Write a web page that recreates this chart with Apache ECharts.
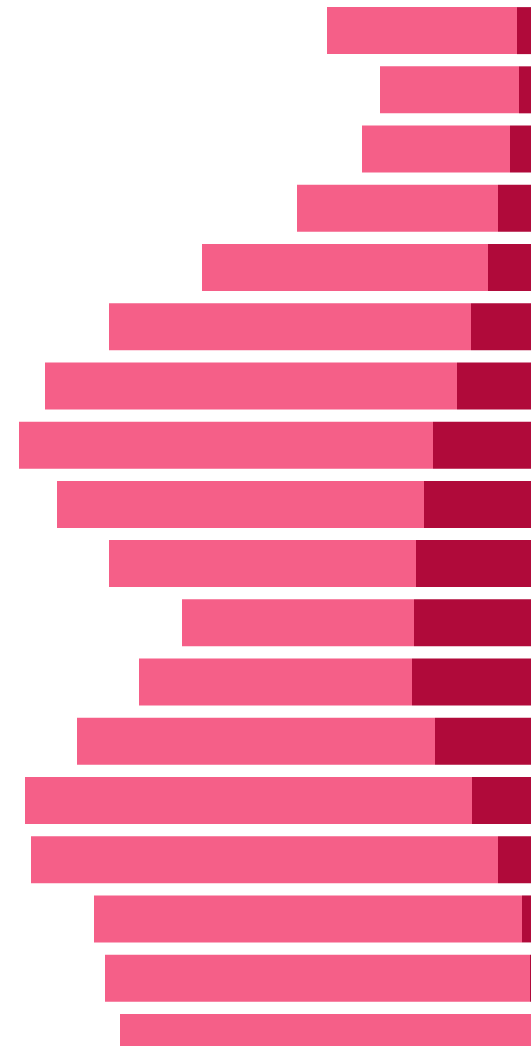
<!DOCTYPE html>
<html><head><meta charset="utf-8">
<script src="https://cdn.jsdelivr.net/npm/echarts@6/dist/echarts.min.js"></script>
<style>html,body{margin:0;padding:0;background:#fff;overflow:hidden}#main{width:531px;height:1068px}</style>
</head><body><div id="main"></div>
<script>
const groups = ['g1','g2','g3','g4','g5','g6','g7','g8','g9','g10','g11','g12','g13','g14','g15','g16','g17','g18'];
const darkValues = [14,12,21,33,43,60,74,98,107,115,117,119,96,59,33,9,1,0];
const lightValues = [190,139,148,201,286,362,412,414,367,307,232,273,358,447,467,428,425,411];

const chart = echarts.init(document.getElementById('main'));
chart.setOption({
  animation: false,
  grid: { left: 0, right: 0, top: 1, height: 1066 },
  xAxis: { type: 'value', inverse: true, min: 0, max: 531, show: false },
  yAxis: { type: 'category', inverse: true, data: groups, show: false },
  series: [
    { type: 'bar', stack: 's', data: darkValues, barWidth: 47, itemStyle: { color: '#b00a3a' } },
    { type: 'bar', stack: 's', data: lightValues, barWidth: 47, itemStyle: { color: '#f55f88' } }
  ]
});
</script></body></html>
